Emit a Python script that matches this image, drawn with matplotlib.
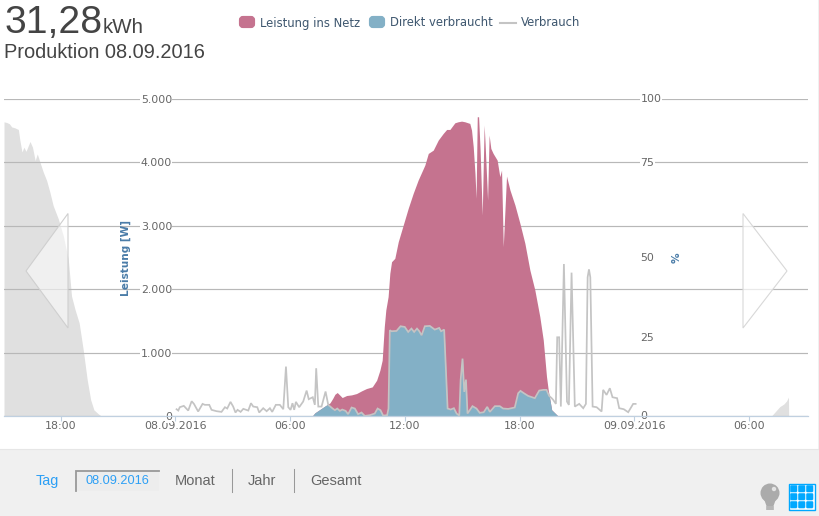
import numpy as np
import matplotlib
matplotlib.use("Agg")
import matplotlib.pyplot as plt
from matplotlib.patches import Polygon, Rectangle, FancyBboxPatch, Circle
from matplotlib.lines import Line2D
from matplotlib.transforms import blended_transform_factory

# ---- data (hours relative to 08.09.2016 00:00, watts) ----
prev_hours = [-8.96,-8.82,-8.68,-8.56,-8.39,-8.21,-8.13,-8.02,-7.92,-7.81,-7.60,-7.47,-7.33,-7.22,-7.08,-6.91,-6.73,-6.56,-6.39,-6.12,-5.86,-5.60,-5.43,-5.25,-5.03,-4.82,-4.61,-4.43,-4.26,-4.03,-3.86]
prev_watts = [4640,4630,4610,4560,4545,4520,4350,4165,4240,4175,4330,4240,4030,4135,4005,3850,3715,3530,3320,3110,2845,2475,1895,1685,1470,1050,575,260,100,37,0]
next_hours = [31.15,31.6,31.8,31.95,32.05,32.06]
next_watts = [0,152,190,240,302,0]

prod_hours = [7.15,7.29,7.55,7.81,8.08,8.22,8.34,8.46,8.60,8.72,8.95,9.21,9.47,9.73,9.99,10.29,10.52,10.69,10.81,10.92,11.0,11.12,11.21,11.30,11.47,11.65,11.91,12.17,12.43,12.69,13.04,13.22,13.48,13.74,14.0,14.18,14.35,14.52,14.61,14.78,14.96,15.13,15.39,15.48,15.57,15.66,15.72,15.78,15.85,15.93,16.04,16.14,16.19,16.32,16.40,16.49,16.61,16.82,16.96,17.05,17.14,17.31,17.49,17.75,18.01,18.27,18.53,18.79,19.05,19.23,19.40,19.49,19.67,20.01]
prod_watts = [0,52,105,158,210,278,346,373,331,294,326,336,357,399,436,462,567,724,882,1411,1674,1884,2252,2435,2488,2750,3013,3276,3512,3722,3958,4142,4194,4352,4457,4520,4520,4589,4625,4641,4651,4641,4615,4510,4247,3827,3434,4720,4720,4195,3171,4589,4300,3407,4431,4221,4142,4037,3775,3880,2672,3785,3565,3328,3040,2725,2305,1990,1570,1202,625,415,100,0]

cons_hours = [0.06,0.15,0.23,0.44,0.67,0.85,0.97,1.19,1.42,1.54,1.77,1.89,2.15,2.41,2.59,2.71,2.88,3.02,3.14,3.25,3.41,3.55,3.81,3.95,4.07,4.28,4.38,4.59,4.77,4.94,5.06,5.25,5.46,5.64,5.78,5.90,6.02,6.12,6.21,6.30,6.47,6.68,6.86,6.97,7.18,7.29,7.36,7.47,7.64,7.85,7.99,8.22,8.34,8.46,8.60,8.72,8.90,9.03,9.21,9.38,9.55,9.73,9.90,10.16,10.42,10.57,10.72,10.86,11.07,11.14,11.21,11.30,11.56,11.77,11.99,12.17,12.34,12.48,12.63,12.74,12.87,13.04,13.30,13.56,13.79,13.89,14.05,14.12,14.23,14.39,14.56,14.70,14.84,14.91,15.01,15.10,15.19,15.27,15.53,15.74,15.91,16.12,16.30,16.44,16.70,16.96,17.13,17.40,17.74,17.92,18.04,18.22,18.44,18.79,19.02,19.23,19.40,19.54,19.67,19.75,19.89,19.96,20.06,20.15,20.31,20.47,20.57,20.71,20.88,21.11,21.32,21.46,21.55,21.62,21.69,21.81,22.02,22.28,22.36,22.54,22.71,22.85,23.09,23.20,23.44,23.67,23.93,24.06]
cons_watts = [110,89,142,163,89,236,194,74,194,179,179,100,79,68,142,121,226,152,58,100,68,116,89,205,152,142,58,126,79,126,68,179,179,110,782,142,100,205,100,226,142,231,404,268,299,179,756,152,152,389,179,121,95,121,84,105,84,32,137,121,32,58,5,16,42,121,95,10,16,121,1355,1339,1344,1418,1407,1328,1381,1328,1381,1344,1276,1418,1423,1365,1391,1339,1365,882,121,105,126,42,10,567,908,383,577,42,158,121,53,63,147,68,158,158,121,115,137,362,399,362,320,284,404,415,415,320,284,257,194,1244,1244,152,2399,231,178,2263,152,194,126,194,2190,2315,2190,152,142,74,415,336,441,299,284,126,110,63,194,194]

x_tick_hours = [-6,0,6,12,18,24,30]
x_tick_labels = ["18:00","08.09.2016","06:00","12:00","18:00","09.09.2016","06:00"]
y_ticks = [0,1000,2000,3000,4000,5000]
y_tick_labels = ["0","1.000","2.000","3.000","4.000","5.000"]
pct_labels = ["100","75","50","25","0"]
pct_positions = [5000,3992,2496,1236,0]

PINK="#C5738F"; BLUE="#83B0C6"; LINE="#C4C4C4"; AREA="#E0E0E0"; GRID="#B8B8B8"
NAVY="#3E576F"; LABEL="#666666"; AXBLUE="#C0D0E0"; HEAD="#4A7CA8"; LINK="#2C9FF5"
W,H=819,516

fig=plt.figure(figsize=(8.19,5.16),dpi=100,facecolor="white")

# chrome layer below the plot
bg=fig.add_axes([0,0,1,1],zorder=0); bg.set_xlim(0,W); bg.set_ylim(H,0); bg.axis("off")
bg.add_patch(Rectangle((0,449),W,67,fc="#F0F0F0",ec="none"))
bg.add_line(Line2D([0,W],[449,449],color="#E6E6E6",lw=0.8))
bg.add_patch(Rectangle((818,0),1,449,fc="#F0F0F0",ec="none"))

ax=fig.add_axes([4/W,(H-416.2)/H,804/W,317.2/H],zorder=1)
ax.patch.set_alpha(0)
ax.set_xlim(-8.96,33.07); ax.set_ylim(0,5000)
for s in ["top","left","right"]: ax.spines[s].set_visible(False)
ax.spines["bottom"].set_color(AXBLUE); ax.spines["bottom"].set_linewidth(0.9)
ax.set_axisbelow(True)
ax.grid(axis="y",color=GRID,lw=0.85)
ax.set_xticks(x_tick_hours,x_tick_labels)
ax.set_yticks(y_ticks,y_tick_labels)
ax.tick_params(axis="x",length=3.6,width=0.8,color=AXBLUE,labelsize=7.9,labelcolor=LABEL,pad=0)
ax.tick_params(axis="y",length=0,labelsize=7.9,labelcolor=LABEL,pad=-121)
for t in ax.get_yticklabels():
    t.set_bbox(dict(fc="white",ec="none",pad=0.2))

ax.fill_between(prev_hours,prev_watts,color=AREA,lw=0,zorder=0.2)
ax.fill_between(next_hours,next_watts,color=AREA,lw=0,zorder=0.2)
ax.fill_between(prod_hours,prod_watts,color=PINK,lw=0,zorder=1)
grid_h=np.linspace(prod_hours[0],prod_hours[-1],4000)
direct=np.minimum(np.interp(grid_h,prod_hours,prod_watts),np.interp(grid_h,cons_hours,cons_watts))
ax.fill_between(grid_h,direct,color=BLUE,lw=0,zorder=1.5)
ax.plot(cons_hours,cons_watts,color=LINE,lw=1.25,zorder=2,solid_joinstyle="miter")

pct_trans=blended_transform_factory(bg.transData,ax.transData)
for lab,pos in zip(pct_labels,pct_positions):
    ax.text(640.5,pos,lab,transform=pct_trans,ha="left",va="center",fontsize=7.9,color=LABEL,
            clip_on=False,zorder=0.6,bbox=dict(fc="white",ec="none",pad=0.2))

# overlay layer
fg=fig.add_axes([0,0,1,1],zorder=2); fg.set_xlim(0,W); fg.set_ylim(H,0); fg.axis("off"); fg.patch.set_alpha(0)
fg.text(126,258,"Leistung [W]",rotation=90,ha="center",va="center",fontsize=7.6,fontweight="bold",color=HEAD)
fg.text(677,258,"%",rotation=90,ha="center",va="center",fontsize=7.6,fontweight="bold",color=HEAD)

fg.add_patch(Polygon([(26,271),(68,213.5),(68,328)],closed=True,fc=(1,1,1,0.55),ec="#CFCFCF",lw=0.8))
fg.add_patch(Polygon([(787,271),(743,213.5),(743,328)],closed=True,fc=(1,1,1,0.7),ec="#D8D8D8",lw=0.8))

ARIAL="Liberation Sans"
fg.text(5,33,"31,28",family=ARIAL,fontsize=28.2,color="#444444",va="baseline")
fg.text(103,33,"kWh",family=ARIAL,fontsize=14.8,color="#444444",va="baseline")
fg.text(4,58,"Produktion 08.09.2016",family=ARIAL,fontsize=14.4,color="#444444",va="baseline")

# legend
fg.add_patch(FancyBboxPatch((241,18),12,8,boxstyle="round,pad=0,rounding_size=2",mutation_aspect=1,fc=PINK,ec=PINK,lw=3))
fg.add_patch(FancyBboxPatch((371,18),12,8,boxstyle="round,pad=0,rounding_size=2",mutation_aspect=1,fc=BLUE,ec=BLUE,lw=3))
fg.add_line(Line2D([500,516],[23,23],color=LINE,lw=1.5))
for x,s in [(260,"Leistung ins Netz"),(390,"Direkt verbraucht"),(521,"Verbrauch")]:
    fg.text(x,23,s,fontsize=8.35,color=NAVY,va="center",ha="left")

# footer
fg.text(36,481,"Tag",family=ARIAL,fontsize=10.4,color=LINK,va="center")
fg.add_patch(Rectangle((75,470),84,21,fc="#EDEDED",ec="none"))
fg.add_line(Line2D([75.5,75.5,159],[491,470.5,470.5],color="#999999",lw=1.3,solid_joinstyle="miter"))
fg.text(85,480.5,"08.09.2016",family=ARIAL,fontsize=9.2,color=LINK,va="center")
fg.text(175,481,"Monat",family=ARIAL,fontsize=10.5,color=LABEL,va="center")
fg.add_line(Line2D([231.5,231.5],[469,492],color="#999999",lw=0.75))
fg.text(248,481,"Jahr",family=ARIAL,fontsize=10.5,color=LABEL,va="center")
fg.add_line(Line2D([293.5,293.5],[469,492],color="#999999",lw=0.75))
fg.text(310,481,"Gesamt",family=ARIAL,fontsize=10.5,color=LABEL,va="center")

# bulb icon
fg.add_patch(Circle((770,493),9.5,fc="#ABABAB",ec="none"))
fg.add_patch(Polygon([(764,499),(776,499),(773.5,506),(766.5,506)],closed=True,fc="#ABABAB",ec="none"))
for yy in (507,509):
    fg.add_line(Line2D([767,773],[yy,yy],color="#ABABAB",lw=1.2))
fg.add_patch(Circle((774,489),2.2,fc="#E4E4E4",ec="none"))

# grid icon
fg.add_patch(Rectangle((788.5,483.5),26,26,fc="white",ec="#00A8FF",lw=1))
for i in range(3):
    for j in range(3):
        fg.add_patch(FancyBboxPatch((790.5+i*8,485.5+j*8),6.5,6.5,boxstyle="round,pad=0,rounding_size=1",fc="#00A8FF",ec="#00A8FF",lw=0.4))

fig.savefig("out.png",dpi=100)
